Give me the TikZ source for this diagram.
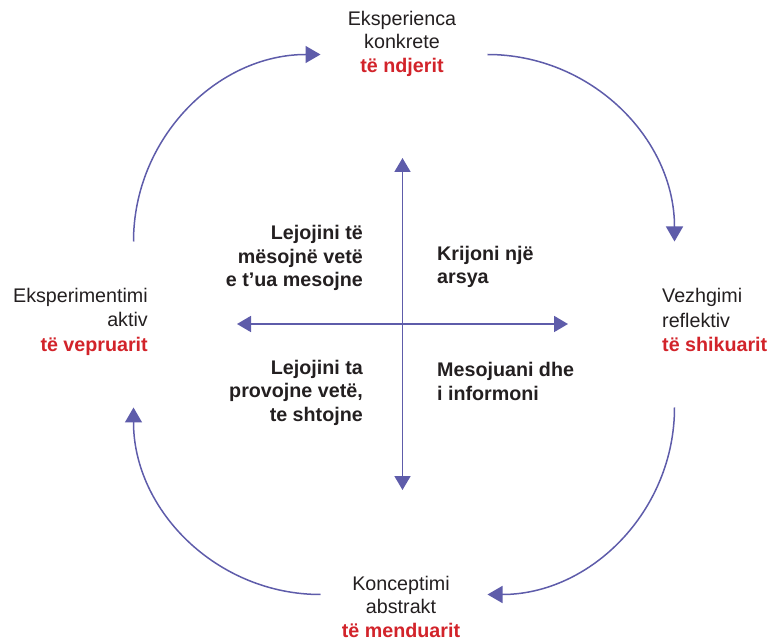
\documentclass[tikz,border=0pt]{standalone}
\usepackage{fontspec}
\setmainfont{Liberation Sans}
\usetikzlibrary{arrows.meta}
\definecolor{cyc}{HTML}{5E5CAA}
\definecolor{redt}{HTML}{D2232A}
\definecolor{txt}{HTML}{231F20}
\begin{document}
\begin{tikzpicture}[x=1pt,y=1pt,
  arcline/.style={draw=cyc,line width=1.5pt,-{Triangle[length=15pt,width=17pt]}},
  axisline/.style={draw=cyc,line width=1.8pt,{Triangle[length=14pt,width=16pt]}-{Triangle[length=14pt,width=16pt]}},
  lbl/.style={inner sep=0pt,text=txt,font=\fontsize{19.7}{23.5}\selectfont},
  sidelbl/.style={lbl,font=\fontsize{19.7}{24.5}\selectfont},
  inner/.style={lbl,font=\fontsize{19.7}{23.5}\selectfont\bfseries}]
\useasboundingbox (0,0) rectangle (772,641);
% outer labels (anchored at the baseline of their last line)
\node[lbl,align=center,anchor=base] (top) at (402,568.5)
  {Eksperienca\\konkrete\\\textcolor{redt}{\textbf{të ndjerit}}};
\node[sidelbl,align=right,anchor=base east] (left) at (148,289.5)
  {Eksperimentimi\\aktiv\\\textcolor{redt}{\textbf{të vepruarit}}};
\node[sidelbl,align=left,anchor=base west] (right) at (662,289)
  {Vezhgimi\\reflektiv\\\textcolor{redt}{\textbf{të shikuarit}}};
\node[lbl,align=center,anchor=base] (bottom) at (401,4)
  {Konceptimi\\abstrakt\\\textcolor{redt}{\textbf{të menduarit}}};
% inner labels
\node[inner,align=right,anchor=base east] (tl) at (363,354)
  {Lejojini të\\mësojnë vetë\\e t’ua mesojne};
\node[inner,align=left,anchor=base west] (tr) at (437,357)
  {Krijoni një\\arsya};
\node[inner,align=right,anchor=base east] (bl) at (363,219.5)
  {Lejojini ta\\provojne vetë,\\te shtojne};
\node[inner,align=left,anchor=base west] (br) at (437,240.5)
  {Mesojuani dhe\\i informoni};
% axes
\coordinate (axT) at (402.5,483);
\coordinate (axB) at (402.5,151);
\coordinate (axL) at (237,317);
\coordinate (axR) at (568,317);
\draw[axisline] (axB) -- (axT);
\draw[axisline] (axL) -- (axR);
% cycle arcs
\coordinate (a1) at (133.5,399.5);
\coordinate (a2) at (487.5,586.5);
\coordinate (a3) at (674.5,233.5);
\coordinate (a4) at (320.5,46.5);
\draw[arcline] (a1) arc[start angle=180,end angle=90,radius=187];
\draw[arcline] (a2) arc[start angle=90,end angle=0,radius=187];
\draw[arcline] (a3) arc[start angle=0,end angle=-90,radius=187];
\draw[arcline] (a4) arc[start angle=270,end angle=180,radius=187];
\end{tikzpicture}
\end{document}
